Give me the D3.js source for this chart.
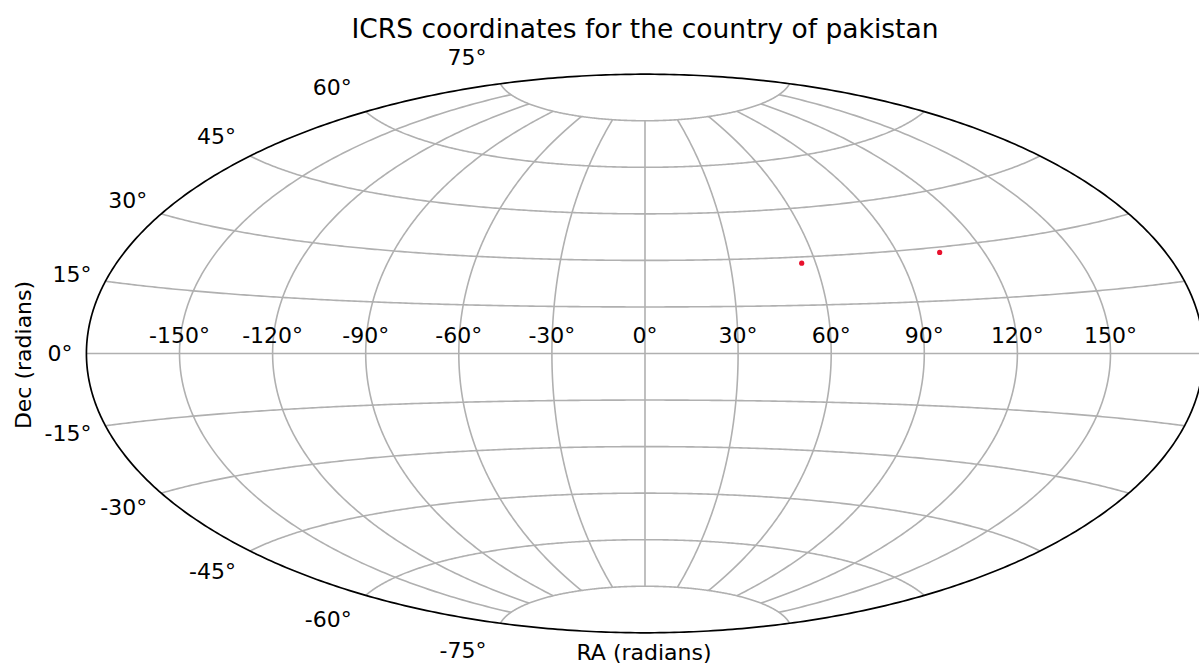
<!DOCTYPE html>
<html>
<head>
<meta charset="utf-8">
<script src="https://cdn.jsdelivr.net/npm/d3@7"></script>
<style>
  body { margin: 0; background: #fff; }
  text { font-family: "DejaVu Sans", sans-serif; fill: #000; }
</style>
</head>
<body>
<script>
// data, in radians like the original plot
var raRad = [0.962, 1.829];
var decRad = [0.490, 0.498];

// grid / tick values (degrees)
var lonTicks = [-150, -120, -90, -60, -30, 0, 30, 60, 90, 120, 150];
var latTicks = [-75, -60, -45, -30, -15, 0, 15, 30, 45, 60, 75];
var lonCap = 75;

var width = 1199,
    height = 666;

// aitoff raw projection (same as d3-geo-projection)
function sinci(x) { return x ? x / Math.sin(x) : 1; }
function aitoffRaw(x, y) {
  var cosy = Math.cos(y), z = Math.acos(cosy * Math.cos(x / 2)), s = sinci(z);
  return [2 * cosy * Math.sin(x / 2) * s, Math.sin(y) * s];
}

var projection = d3.geoProjection(aitoffRaw)
  .scale(177.8)
  .translate([645, 353.5]);

var svg = d3.select("body").append("svg")
  .attr("width", width)
  .attr("height", height);

var line = d3.line();

function meridian(lon, lat0, lat1) {
  return d3.range(lat0, lat1 + 0.001, 0.5).map(function(lat) { return projection([lon, lat]); });
}
function parallel(lat) {
  return d3.range(-180, 180.001, 1).map(function(lon) { return projection([lon, lat]); });
}

var grid = svg.append("g")
  .attr("fill", "none")
  .attr("stroke", "#b0b0b0")
  .attr("stroke-width", 1.6);

grid.selectAll("path.lat")
  .data(latTicks)
  .enter().append("path")
  .attr("class", "lat")
  .attr("d", function(d) { return line(parallel(d)); });

grid.selectAll("path.lon")
  .data(lonTicks)
  .enter().append("path")
  .attr("class", "lon")
  .attr("d", function(d) { return line(meridian(d, -lonCap, lonCap)); });

// outline of the sphere
var outline = meridian(180, -90, 90).concat(meridian(-180, -90, 90).reverse());
svg.append("path")
  .attr("d", line(outline) + "Z")
  .attr("fill", "none")
  .attr("stroke", "#000")
  .attr("stroke-width", 1.7);

// points
var pts = raRad.map(function(r, i) { return [r * 180 / Math.PI, decRad[i] * 180 / Math.PI]; });
svg.selectAll("circle.pt")
  .data(pts)
  .enter().append("circle")
  .attr("class", "pt")
  .attr("cx", function(d) { return projection(d)[0]; })
  .attr("cy", function(d) { return projection(d)[1]; })
  .attr("r", 2.6)
  .attr("fill", "#e8112d");

// longitude labels along the equator
var eqY = projection([0, 0])[1];
svg.selectAll("text.xt")
  .data(lonTicks)
  .enter().append("text")
  .attr("class", "xt")
  .attr("x", function(d) { return projection([d, 0])[0]; })
  .attr("y", eqY - 11)
  .attr("text-anchor", "middle")
  .style("font-size", "22px")
  .text(function(d) { return d + "°"; });

// latitude labels at the left edge (y spread by 1.1 like matplotlib)
var cy = projection([0, 0])[1];
svg.selectAll("text.yt")
  .data(latTicks)
  .enter().append("text")
  .attr("class", "yt")
  .attr("x", function(d) { return projection([-180, d])[0] - 14; })
  .attr("y", function(d) { return cy + 1.1 * (projection([-180, d])[1] - cy); })
  .attr("dy", "0.36em")
  .attr("text-anchor", "end")
  .style("font-size", "22px")
  .text(function(d) { return d + "°"; });

svg.append("text")
  .attr("x", 645)
  .attr("y", 38)
  .attr("text-anchor", "middle")
  .style("font-size", "26.5px")
  .text("ICRS coordinates for the country of pakistan");

svg.append("text")
  .attr("x", 644)
  .attr("y", 660)
  .attr("text-anchor", "middle")
  .style("font-size", "22px")
  .text("RA (radians)");

svg.append("text")
  .attr("transform", "translate(31,355) rotate(-90)")
  .attr("text-anchor", "middle")
  .style("font-size", "22px")
  .text("Dec (radians)");
</script>
</body>
</html>
